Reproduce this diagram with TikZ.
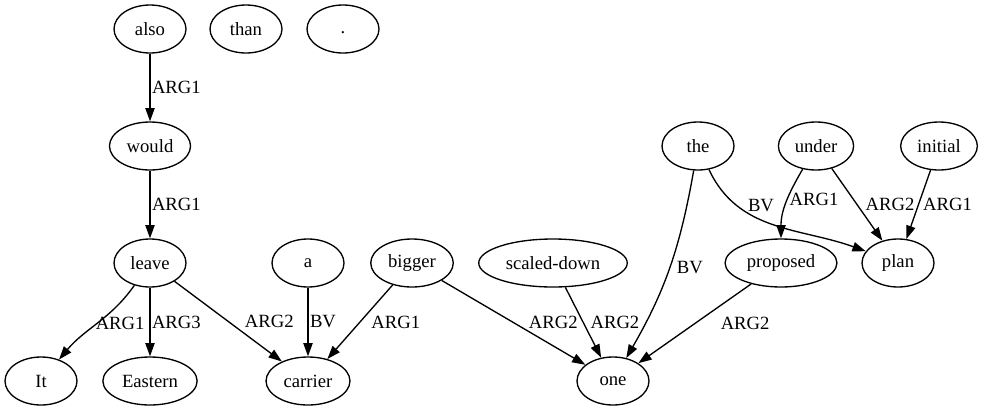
\documentclass[tikz,border=0pt]{standalone}
\usepackage{fontspec}
\setmainfont{Liberation Serif}
\usepackage{tikz}
\usetikzlibrary{arrows.meta, shapes.geometric}

\begin{document}
\begin{tikzpicture}[
    x=0.75pt, y=-0.75pt,
    token/.style={draw, ellipse, line width=1pt, minimum width=54pt,
      minimum height=36pt, inner xsep=4pt, inner ysep=2pt,
      font=\fontsize{14}{16}\selectfont},
    rel/.style={-{Triangle[length=10pt, width=7pt]}, line width=1pt},
    lbl/.style={anchor=west, inner sep=1pt, font=\fontsize{14}{16}\selectfont}
  ]
    \useasboundingbox (0,0) rectangle (985,411);

    \node[token] (also) at (150,29) {also};
    \node[token] (than) at (246,29) {than};
    \node[token] (dot) at (343,29) {\strut.};
    \node[token] (would) at (150,146) {would};
    \node[token] (leave) at (150,263) {leave};
    \node[token] (it) at (41,381) {It};
    \node[token] (eastern) at (150,381) {Eastern};
    \node[token] (a) at (308,263) {a};
    \node[token] (bigger) at (412,263) {bigger};
    \node[token] (carrier) at (308,381) {carrier};
    \node[token] (scaled) at (553,263) {scaled-down};
    \node[token] (one) at (613,381) {one};
    \node[token] (the) at (698,146) {the};
    \node[token] (under) at (816,146) {under};
    \node[token] (initial) at (939,146) {initial};
    \node[token] (proposed) at (781,263) {proposed};
    \node[token] (plan) at (898,263) {plan};

    \draw[rel] (also) -- node[lbl] {ARG1} (would);
    \draw[rel] (would) -- node[lbl] {ARG1} (leave);
    \draw[rel] (leave) to[out=-125, in=50] node[lbl, xshift=-3pt] {ARG1} (it);
    \draw[rel] (leave) -- node[lbl] {ARG3} (eastern);
    \draw[rel] (leave) -- node[lbl, xshift=11pt] {ARG2} (carrier);
    \draw[rel] (a) -- node[lbl] {BV} (carrier);
    \draw[rel] (bigger) -- node[lbl, xshift=7pt] {ARG1} (carrier);
    \draw[rel] (bigger) -- node[lbl, xshift=10pt] {ARG2} (one);
    \draw[rel] (scaled) -- node[lbl, xshift=4pt] {ARG2} (one);
    \draw[rel] (the) to[out=-100, in=60] node[lbl, xshift=4pt] {BV} (one);
    \draw[rel] (the) to[out=-65, in=160] node[lbl, pos=0.25, xshift=7pt] {BV} (plan);
    \draw[rel] (under) to[out=-120, in=90] node[lbl, pos=0.45] {ARG1} (proposed);
    \draw[rel] (under) -- node[lbl, xshift=5pt] {ARG2} (plan);
    \draw[rel] (initial) -- node[lbl, xshift=2pt] {ARG1} (plan);
    \draw[rel] (proposed) -- node[lbl, xshift=18pt] {ARG2} (one);
\end{tikzpicture}
\end{document}
